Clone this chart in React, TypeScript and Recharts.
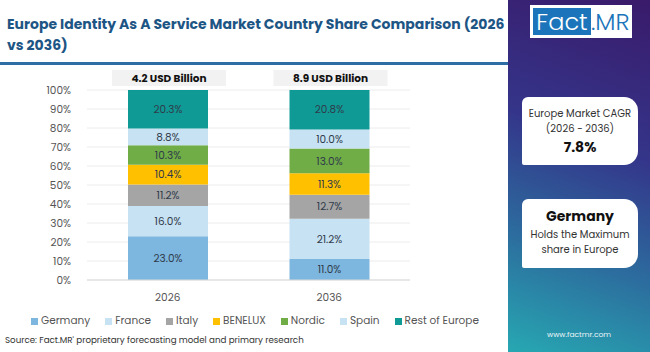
import { BarChart, Bar, XAxis, YAxis, CartesianGrid, LabelList } from "recharts";

const years = ["2026", "2036"];
const totals = ["4.2 USD Billion", "8.9 USD Billion"];
const countries = ["Germany", "France", "Italy", "BENELUX", "Nordic", "Spain", "Rest of Europe"];
const germany = [23.0, 11.0];
const france = [16.0, 21.2];
const italy = [11.2, 12.7];
const benelux = [10.4, 11.3];
const nordic = [10.3, 13.0];
const spain = [8.8, 10.0];
const restOfEurope = [20.3, 20.8];
const yTicks = [0, 10, 20, 30, 40, 50, 60, 70, 80, 90, 100];

const COLORS = ["#7db6de", "#c7e2f3", "#a5a5a5", "#ffc000", "#70ad47", "#c7e2f3", "#0f9a95"];
const FONT = "Poppins, 'Open Sans', sans-serif";

const series = [germany, france, italy, benelux, nordic, spain, restOfEurope];
const rows = years.map((year, i) => {
  const row: Record<string, string | number> = { year, total: totals[i] };
  countries.forEach((c, k) => (row[c] = series[k][i]));
  return row;
});

// grey pill with the market size, drawn above the top segment
function TotalLabel(props: any) {
  const { x, y, width, index } = props;
  const cx = x + width / 2;
  return (
    <g>
      <rect x={cx - 56} y={y - 20} width={114} height={16} fill="#f2f2f2" />
      <text x={cx + 1} y={y - 8} textAnchor="middle" fontSize={10.5} fontWeight={700} fill="#111" fontFamily={FONT}>
        {totals[index]}
      </text>
    </g>
  );
}

export default function App() {
  return (
    <div style={{ position: "fixed", left: 0, top: 0, width: 650, height: 352, background: "#fff", fontFamily: FONT, overflow: "hidden" }}>
      <div style={{ position: "absolute", left: 7, top: 14, width: 500, fontSize: 14, fontWeight: 700, lineHeight: "21px", color: "#1d5585" }}>
        Europe Identity As A Service Market Country Share Comparison (2026 vs 2036)
      </div>
      <div style={{ position: "absolute", left: 0, top: 62, width: 508, height: 3, background: "#2f6ea5" }} />

      <div style={{ position: "absolute", left: 0, top: 65 }}>
        <BarChart width={420} height={245} data={rows} margin={{ top: 25, right: 10, left: 0, bottom: 0 }} barSize={80}>
          <CartesianGrid vertical={false} stroke="#ececec" />
          <XAxis dataKey="year" height={30} tickLine={false} axisLine={{ stroke: "#d9d9d9" }} tick={{ fontSize: 10.5, fill: "#555", fontFamily: FONT }} tickMargin={8} />
          <YAxis width={87} domain={[0, 100]} ticks={yTicks} interval={0} tickFormatter={(v) => `${v}%`} tickLine={false} axisLine={false} tick={{ fontSize: 10.5, fill: "#555", fontFamily: FONT }} tickMargin={10} />
          {countries.map((c, k) => (
            <Bar key={c} dataKey={c} stackId="a" fill={COLORS[k]} isAnimationActive={false}>
              <LabelList dataKey={c} position="center" formatter={(v: any) => `${Number(v).toFixed(1)}%`} style={{ fontSize: 10.5, fill: "#2f3a4a", fontFamily: FONT }} />
              {k === countries.length - 1 && <LabelList dataKey="total" content={<TotalLabel />} />}
            </Bar>
          ))}
        </BarChart>
      </div>

      <div style={{ position: "absolute", left: 31, top: 313, display: "flex", gap: 15, fontSize: 10.5, lineHeight: "16px", color: "#555", whiteSpace: "nowrap" }}>
        {countries.map((c, k) => (
          <div key={c} style={{ display: "flex", alignItems: "center", gap: 3 }}>
            <span style={{ width: 7, height: 7, background: COLORS[k], display: "inline-block" }} />
            <span>{c}</span>
          </div>
        ))}
      </div>
      <div style={{ position: "absolute", left: 5, top: 334, fontSize: 8.7, lineHeight: "12px", color: "#333" }}>
        Source: Fact.MR' proprietary forecasting model and primary research
      </div>

      <div style={{ position: "absolute", left: 508, top: 0, width: 142, height: 352, background: "linear-gradient(200deg, #3a1a6a 0%, #34358a 40%, #2c6c9e 70%, #27a8b2 100%)" }}>
        <div style={{ position: "absolute", left: 22, top: 5, width: 102, height: 33, background: "#fff", display: "flex", alignItems: "center" }}>
          <div style={{ marginLeft: 3, width: 58, height: 27, background: "#1c75bb", color: "#fff", fontSize: 24, lineHeight: "27px", textAlign: "center", fontWeight: 300 }}>Fact</div>
          <div style={{ color: "#1c75bb", fontSize: 24, lineHeight: "27px", fontWeight: 300 }}>.MR</div>
        </div>
        <div style={{ position: "absolute", left: 14, top: 97, width: 116, height: 68, background: "#fff", borderRadius: "6px 14px 14px 2px", textAlign: "center", color: "#333" }}>
          <div style={{ marginTop: 9, fontSize: 10, lineHeight: "15px" }}>Europe Market CAGR</div>
          <div style={{ fontSize: 10, lineHeight: "15px" }}>(2026 - 2036)</div>
          <div style={{ fontSize: 14, fontWeight: 700, lineHeight: "22px", color: "#111" }}>7.8%</div>
        </div>
        <div style={{ position: "absolute", left: 14, top: 199, width: 116, height: 69, background: "#fff", borderRadius: "6px 14px 14px 2px", textAlign: "center", color: "#333" }}>
          <div style={{ marginTop: 6, fontSize: 14, fontWeight: 700, lineHeight: "22px", color: "#111" }}>Germany</div>
          <div style={{ fontSize: 10, lineHeight: "15px" }}>Holds the Maximum</div>
          <div style={{ fontSize: 10, lineHeight: "15px" }}>share in Europe</div>
        </div>
        <div style={{ position: "absolute", left: 0, top: 329, width: 142, textAlign: "center", fontSize: 7.5, color: "#e8f4f8" }}>www.factmr.com</div>
      </div>
    </div>
  );
}
